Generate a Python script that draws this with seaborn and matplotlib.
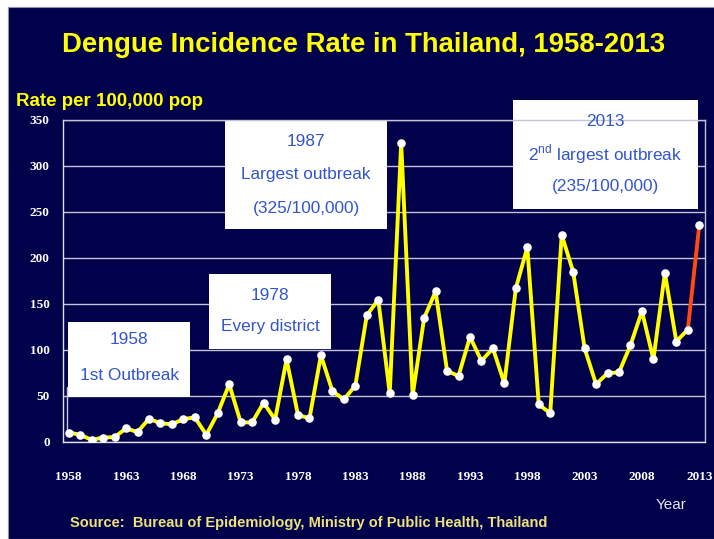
import numpy as np
import pandas as pd
import matplotlib.pyplot as plt
from matplotlib.patches import Rectangle
from matplotlib.lines import Line2D
import seaborn as sns

# Dengue incidence rate per 100,000 population, Thailand
years = list(range(1958, 2014))
rates = [10, 7.5, 2, 4.5, 5, 14.5, 10.5, 25, 20, 19,
         24.5, 26.5, 7.5, 31, 62.5, 21, 21, 42.5, 24, 89.5,
         29, 25.5, 94, 55, 46, 61, 137.5, 154.5, 52.5, 325,
         50.5, 134.5, 163.5, 77, 71.5, 114, 88, 101.5, 63.5, 167,
         211.5, 40.5, 31, 225, 185, 101.5, 62.5, 74.5, 75.5, 105,
         142, 89.5, 183.5, 109, 122, 235.5]
y_ticks = [0, 50, 100, 150, 200, 250, 300, 350]

title = "Dengue Incidence Rate in Thailand, 1958-2013"
y_title = "Rate per 100,000 pop"
source = "Source:  Bureau of Epidemiology, Ministry of Public Health, Thailand"

callouts = [
    ["1958", "1st Outbreak"],
    ["1978", "Every district"],
    ["1987", "Largest outbreak", "(325/100,000)"],
    ["2013", r"2$^{\mathrm{nd}}$ largest outbreak", "(235/100,000)"],
]

df = pd.DataFrame({"year": years, "rate": rates})
df["pos"] = np.arange(len(df))

navy = "#00004B"
grid_c = "#C4C4D6"
blue = "#3355CC"
W, H = 714, 539

sns.set_theme(style="white")
plt.rcParams["font.family"] = ["Liberation Sans", "DejaVu Sans"]
plt.rcParams["mathtext.fontset"] = "custom"
plt.rcParams["mathtext.rm"] = "Liberation Sans"

fig = plt.figure(figsize=(W / 100, H / 100), dpi=100, facecolor="white")
fig.add_artist(Rectangle((8 / W, 0), 1, 1 - 7 / H, transform=fig.transFigure,
                         facecolor=navy, edgecolor="#9090A8", lw=0.8, zorder=-10))

ax = fig.add_axes([63 / W, 1 - 441.7 / H, 642 / W, 321.7 / H])
ax.set_facecolor(navy)

# line, last segment highlighted, then markers on top
sns.lineplot(data=df.iloc[:-1], x="pos", y="rate", color="#FFFF00", lw=2.8, ax=ax, zorder=3)
sns.lineplot(data=df.iloc[-2:], x="pos", y="rate", color="#FF4A10", lw=2.8, ax=ax, zorder=4)
sns.scatterplot(data=df, x="pos", y="rate", color="white", s=38, linewidth=0, ax=ax, zorder=5)

# callout boxes (pixel positions from top-left)
box_px = [(68, 322, 190, 397), (209, 274, 331, 349), (225, 120, 387, 229), (513, 100, 698, 209)]
line_px = [[340, 376], [295, 327], [141, 174, 208], [121, 154, 186]]
for (x0, y0, x1, y1), lines, ys in zip(box_px, callouts, line_px):
    ax.add_patch(Rectangle((x0 / W, 1 - y1 / H), (x1 - x0) / W, (y1 - y0) / H,
                           transform=fig.transFigure, facecolor="white", edgecolor="none",
                           zorder=2, clip_on=False))
    for txt, yy in zip(lines, ys):
        ax.text((x0 + x1) / 2 / W, 1 - yy / H, txt, transform=fig.transFigure,
                ha="center", va="center", fontsize=12.4, color=blue, zorder=6)
ax.add_line(Line2D([67 / W, 67 / W], [1 - 387 / H, 1 - 433 / H], transform=fig.transFigure,
                   color="#C8C8D0", lw=1, zorder=2, clip_on=False))

ax.set_xlim(-0.5, len(df) - 0.5)
ax.set_ylim(0, 350)
ax.set_xticks(df["pos"][::5])
ax.set_xticklabels(df["year"][::5])
ax.set_xticks(np.arange(-0.5, len(df), 10), minor=True)
ax.set_yticks(y_ticks)
ax.set_xlabel("")
ax.set_ylabel("")
ax.tick_params(axis="x", which="major", length=0, pad=21, labelcolor="white", labelsize=9.5)
ax.tick_params(axis="x", which="minor", length=4, width=1, color=grid_c, direction="out")
ax.tick_params(axis="y", length=4.5, width=1, color=grid_c, direction="out", pad=5,
               labelcolor="white", labelsize=9.5)
for lab in ax.get_xticklabels() + ax.get_yticklabels():
    lab.set_family("Liberation Serif")
    lab.set_weight("bold")

ax.yaxis.grid(True, color=grid_c, lw=1)
ax.set_axisbelow(True)
for sp in ax.spines.values():
    sp.set_visible(True)
    sp.set_color(grid_c)
    sp.set_linewidth(1)
ax.spines["bottom"].set_color("#E0E0EA")
ax.spines["left"].set_color("#E0E0EA")

fig.text(364 / W, 1 - 52.3 / H, title, ha="center", va="baseline", fontsize=19.8,
         fontweight="bold", color="#FFFF00")
fig.text(16 / W, 1 - 105.7 / H, y_title, ha="left", va="baseline", fontsize=13.5,
         fontweight="bold", color="#FFFF00")
fig.text(671 / W, 1 - 505 / H, "Year", ha="center", va="center", fontsize=11, color="#E4E4EE")
fig.text(70 / W, 1 - 523 / H, source, ha="left", va="center", fontsize=10.5,
         fontweight="bold", color="#EDE37A")

fig.savefig("out.png", dpi=100, facecolor=fig.get_facecolor())
